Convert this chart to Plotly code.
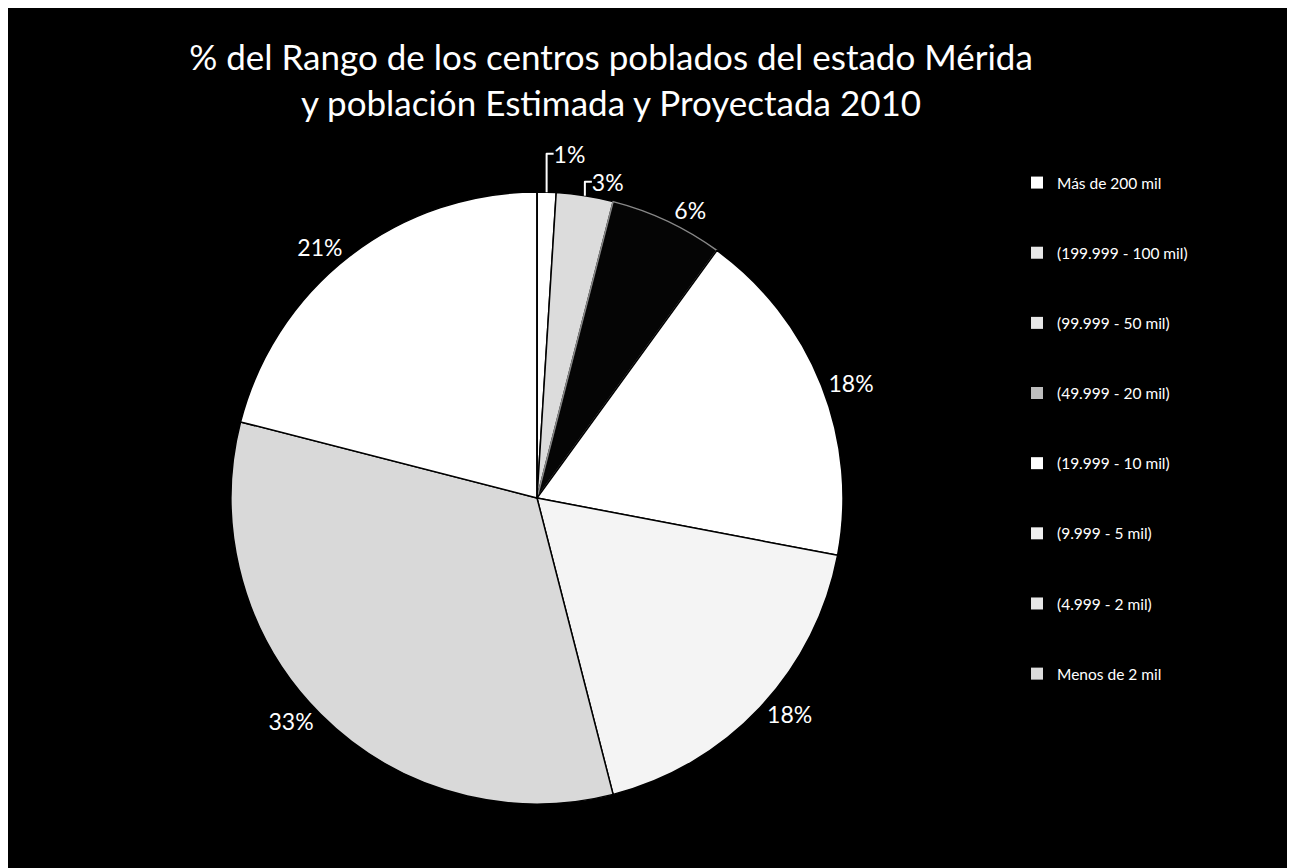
import plotly.graph_objects as go

categories = ["Más de 200 mil", "(199.999 - 100 mil)", "(99.999 - 50 mil)",
              "(49.999 - 20 mil)", "(19.999 - 10 mil)", "(9.999 - 5 mil)",
              "(4.999 - 2 mil)", "Menos de 2 mil"]
percent = [1, 3, 6, 18, 18, 33, 21, 0]
slice_colors = ["#ffffff", "#dcdcdc", "#050505", "#ffffff", "#f4f4f4",
                "#d9d9d9", "#ffffff", "#ffffff"]
legend_colors = ["#ffffff", "#e6e6e6", "#e6e6e6", "#bdbdbd",
                 "#ffffff", "#f0f0f0", "#e6e6e6", "#dcdcdc"]
title_lines = ["% del Rango de los centros poblados del estado Mérida",
               "y población Estimada y Proyectada 2010"]

labels_txt = [f"{v}%" if v > 0 else "" for v in percent]

W, H = 1295, 868
cx, cy, half = 529, 490, 306
fig = go.Figure()

fig.add_trace(go.Pie(
    labels=categories, values=percent, sort=False, direction="clockwise",
    rotation=0, text=labels_txt, textinfo="text", textposition="outside",
    textfont=dict(family="Lato", size=23, color="white"),
    marker=dict(colors=slice_colors,
                line=dict(color=["#000", "#000", "#888", "#000", "#000", "#000", "#000", "#000"],
                          width=1.5)),
    showlegend=False,
    domain=dict(x=[(cx - half) / W, (cx + half) / W],
                y=[(H - cy - half) / H, (H - cy + half) / H]),
))

for i, (c, col) in enumerate(zip(categories, legend_colors)):
    fig.add_trace(go.Scatter(
        x=[None], y=[None], mode="markers", name=c, legendgroup=f"g{i}",
        marker=dict(symbol="square", size=9, color=col),
        showlegend=True,
    ))

fig.update_layout(
    width=W, height=H,
    paper_bgcolor="white", plot_bgcolor="black",
    margin=dict(l=0, r=0, t=0, b=0),
    xaxis=dict(visible=False), yaxis=dict(visible=False),
    title=dict(text="<br>".join(title_lines), x=603 / W, xanchor="center",
               y=1 - 62 / H, yanchor="middle",
               font=dict(family="Lato", size=35, color="white")),
    legend=dict(x=1009 / W, xanchor="left", y=1 - 158 / H, yanchor="top",
                font=dict(family="Lato", size=15.5, color="white"),
                tracegroupgap=47, bgcolor="rgba(0,0,0,0)", itemsizing="constant"),
    shapes=[dict(type="rect", xref="paper", yref="paper", x0=4 / W, x1=1288 / W,
                 y0=0, y1=1 - 7 / H, fillcolor="black", line=dict(width=0), layer="below")],
)

fig.write_html("out.html")
